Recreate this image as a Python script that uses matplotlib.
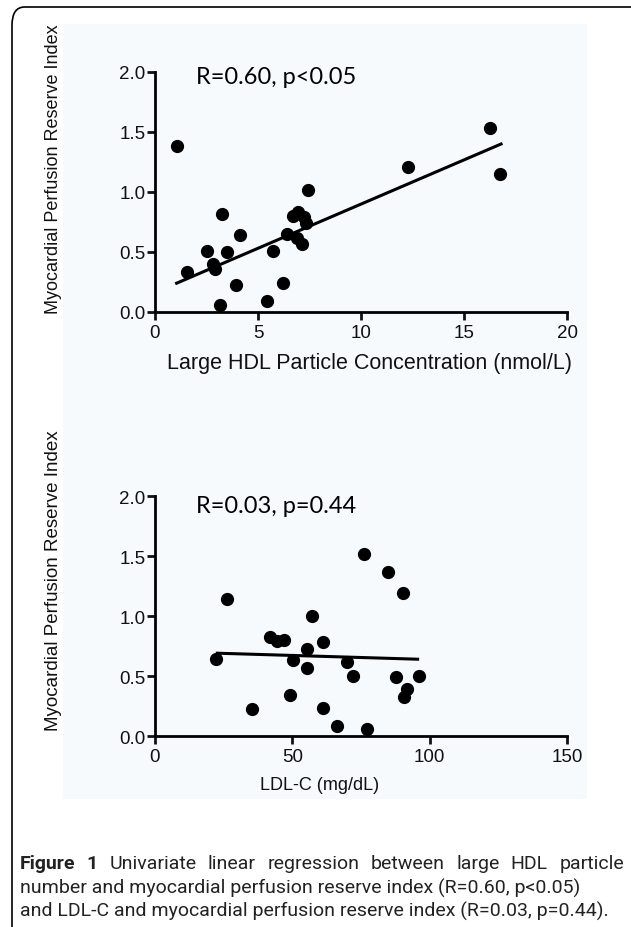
import matplotlib
matplotlib.use("Agg")
import matplotlib.pyplot as plt
from matplotlib.patches import FancyBboxPatch, Rectangle

# large HDL particle concentration vs MPRI
hdl_x = [1.05, 1.54, 2.51, 2.83, 2.92, 3.24, 3.51, 3.94, 4.13, 3.14, 5.72, 6.2, 5.46,
         6.4, 6.69, 6.92, 7.24, 6.88, 7.13, 7.33, 7.42, 12.3, 16.28, 16.76]
hdl_y = [1.38, 0.33, 0.506, 0.40, 0.355, 0.815, 0.50, 0.228, 0.643, 0.06, 0.506, 0.238, 0.089,
         0.648, 0.80, 0.835, 0.79, 0.62, 0.57, 0.745, 1.015, 1.21, 1.537, 1.152]
hdl_fit_x = [1.05, 16.8]
hdl_fit_y = [0.24, 1.40]

# LDL-C vs MPRI
ldl_x = [22.2, 26.1, 35.2, 41.9, 44.3, 47.0, 49.2, 50.2, 55.3, 55.3, 57.1, 61.1,
         61.0, 66.2, 70.0, 72.1, 76.2, 77.1, 85.0, 87.8, 90.3, 90.7, 91.9, 96.0]
ldl_y = [0.64, 1.14, 0.226, 0.827, 0.79, 0.80, 0.344, 0.632, 0.727, 0.564, 1.003, 0.785,
         0.233, 0.083, 0.614, 0.50, 1.52, 0.058, 1.37, 0.495, 1.193, 0.326, 0.394, 0.50]
ldl_fit_x = [22.7, 95.6]
ldl_fit_y = [0.69, 0.64]

W, H = 631, 928
fig = plt.figure(figsize=(W / 100, H / 100), dpi=100)

# outer rounded frame and light panel background
fig.patches.append(FancyBboxPatch((12 / W, -0.05), 1.1, 0.05 + 1 - 8 / H,
                                  boxstyle="round,pad=0,rounding_size=0.02",
                                  transform=fig.transFigure, fill=False,
                                  edgecolor="black", linewidth=1.2, zorder=-4))
fig.patches.append(Rectangle((63 / W, 1 - 800 / H), (587 - 63) / W, (800 - 25) / H,
                             transform=fig.transFigure, facecolor="#f6fafc",
                             edgecolor="none", zorder=-5))

tick_font = "Liberation Sans"


def style_axes(ax, xmax, xticks, xlabel, xsize, xlab_pos, ysize, ylab_pos):
    ax.set_facecolor("none")
    for s in ["top", "right"]:
        ax.spines[s].set_visible(False)
    for s in ["left", "bottom"]:
        ax.spines[s].set_linewidth(2.0)
    ax.set_xlim(0, xmax)
    ax.set_ylim(0, 2.0)
    ax.set_xticks(xticks)
    ax.set_yticks([0, 0.5, 1.0, 1.5, 2.0])
    ax.set_yticklabels(["0.0", "0.5", "1.0", "1.5", "2.0"])
    ax.tick_params(axis="both", direction="out", length=6, width=2.0,
                   labelsize=13.5, colors="#111111")
    ax.tick_params(axis="x", pad=2.5)
    ax.tick_params(axis="y", pad=1.0)
    for lab in ax.get_xticklabels() + ax.get_yticklabels():
        lab.set_fontfamily(tick_font)
    ax.set_xlabel(xlabel, fontsize=xsize, family=tick_font, color="#111111")
    ax.set_ylabel("Myocardial Perfusion Reserve Index", fontsize=ysize,
                  family=tick_font, color="#111111")
    ax.xaxis.set_label_coords(*xlab_pos)
    ax.yaxis.set_label_coords(*ylab_pos)


ax1 = fig.add_axes([155 / W, 1 - 313 / H, 412 / W, 240 / H])
ax1.plot(hdl_x, hdl_y, "o", color="black", markersize=8.5, clip_on=False)
ax1.plot(hdl_fit_x, hdl_fit_y, color="black", linewidth=2.2)
style_axes(ax1, 20, [0, 5, 10, 15, 20], "Large HDL Particle Concentration (nmol/L)",
           15.5, (0.52, -0.165), 13, (-0.225, 0.6))
ax1.text(0.1, 0.98, "R=0.60, p<0.05", transform=ax1.transAxes, fontsize=17,
         family="Lato", va="center", ha="left")

ax2 = fig.add_axes([155 / W, 1 - 737 / H, 412 / W, 240 / H])
ax2.plot(ldl_x, ldl_y, "o", color="black", markersize=8.5, clip_on=False)
ax2.plot(ldl_fit_x, ldl_fit_y, color="black", linewidth=2.2)
style_axes(ax2, 150, [0, 50, 100, 150], "LDL-C (mg/dL)",
           13, (0.4, -0.165), 13.5, (-0.225, 0.65))
ax2.text(0.1, 0.96, "R=0.03, p=0.44", transform=ax2.transAxes, fontsize=17,
         family="Lato", va="center", ha="left")

# caption
cap_font = "Roboto"
cap_size = 14
line1 = ["Figure", "1", "Univariate", "linear", "regression", "between", "large",
         "HDL", "particle"]
texts = []
for i, w in enumerate(line1):
    texts.append(fig.text(0, 1 - 864 / H, w, fontsize=cap_size, family=cap_font,
                          weight="bold" if i < 2 else "normal", va="center",
                          color="#222222"))
fig.canvas.draw()
rend = fig.canvas.get_renderer()
widths = [t.get_window_extent(rend).width for t in texts]
gap = (624 - 20 - sum(widths)) / (len(line1) - 1)
x = 20
for t, w in zip(texts, widths):
    t.set_x(x / W)
    x += w + gap

fig.text(20 / W, 1 - 888 / H,
         "number and myocardial perfusion reserve index (R=0.60, p<0.05)",
         fontsize=cap_size, family=cap_font, va="center", color="#222222")
fig.text(20 / W, 1 - 911 / H,
         "and LDL-C and myocardial perfusion reserve index (R=0.03, p=0.44).",
         fontsize=cap_size, family=cap_font, va="center", color="#222222")

fig.savefig("out.png", dpi=100)
